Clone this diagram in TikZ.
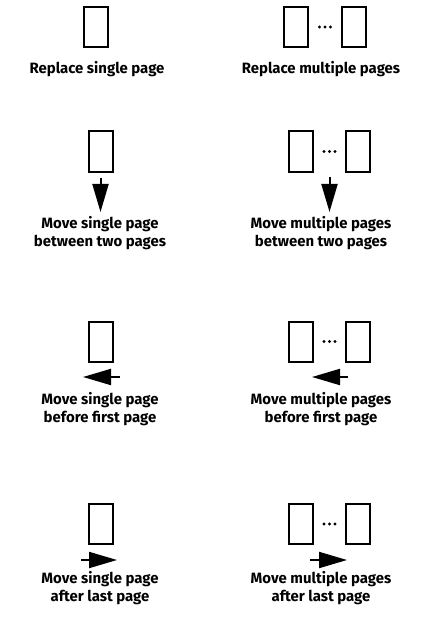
\documentclass[tikz,border=0pt]{standalone}
\usepackage{fontspec}
\setmainfont{Fira Sans}
\usetikzlibrary{arrows.meta,calc}

\begin{document}
\begin{tikzpicture}[x=1bp,y=-1bp]
      \tikzstyle{every node}+=[inner sep=0pt]
      \tikzstyle{page}=[draw, line width=2bp, minimum width=24bp, minimum height=40bp]
      \tikzstyle{caption}=[align=center, anchor=north, font=\bfseries\fontsize{15}{18.5}\selectfont]
      \tikzstyle{move}=[line width=2bp, -{Triangle[length=28bp,width=16bp]}]
      \useasboundingbox (0,0) rectangle (426,618);
      % replace
      \node [page] (single1) at (96,27) {};
      \node [page] (first1) at (296,27) {};
      \node [page] (last1) at (354,27) {};
      \node [caption] (text1) at (97,61) {Replace single page};
      \node [caption] (text5) at (321,61) {Replace multiple pages};
      % move between
      \node [page] (single2) at (100.5,151.5) {};
      \node [page] (first2) at (301,151.5) {};
      \node [page] (last2) at (358,151.5) {};
      \coordinate (tip2) at (100.5,212);
      \coordinate (tip6) at (329.5,212);
      \draw [move, shorten <=5bp] (single2) -- (tip2);
      \draw [move, shorten <=5bp] (329.5,172) -- (tip6);
      \node [caption] (text2) at (100,216) {Move single page\\between two pages};
      \node [caption] (text6) at (321,216) {Move multiple pages\\between two pages};
      % move before
      \node [page] (single3) at (100.5,341.5) {};
      \node [page] (first3) at (301,341.5) {};
      \node [page] (last3) at (358,341.5) {};
      \coordinate (tail3) at (120,377);
      \coordinate (tip3) at (83,377);
      \coordinate (tail7) at (348,377);
      \coordinate (tip7) at (312,377);
      \draw [move] (tail3) -- (tip3);
      \draw [move] (tail7) -- (tip7);
      \node [caption] (text3) at (100,392) {Move single page\\before first page};
      \node [caption] (text7) at (321,392) {Move multiple pages\\before first page};
      % move after
      \node [page] (single4) at (100.5,524) {};
      \node [page] (first4) at (301,524) {};
      \node [page] (last4) at (358,524) {};
      \coordinate (tail4) at (81,560);
      \coordinate (tip4) at (117,560);
      \coordinate (tail8) at (310,560);
      \coordinate (tip8) at (347,560);
      \draw [move] (tail4) -- (tip4);
      \draw [move] (tail8) -- (tip8);
      \node [caption] (text4) at (100,571) {Move single page\\after last page};
      \node [caption] (text8) at (321,571) {Move multiple pages\\after last page};
      % dots between first and last page
      \foreach \row in {1,2,3,4}
        \foreach \dx in {-5.5,0,5.5}
          \fill ($(first\row)!0.5!(last\row)$) ++(\dx,0) circle (1.7bp);
      \end{tikzpicture}
\end{document}
